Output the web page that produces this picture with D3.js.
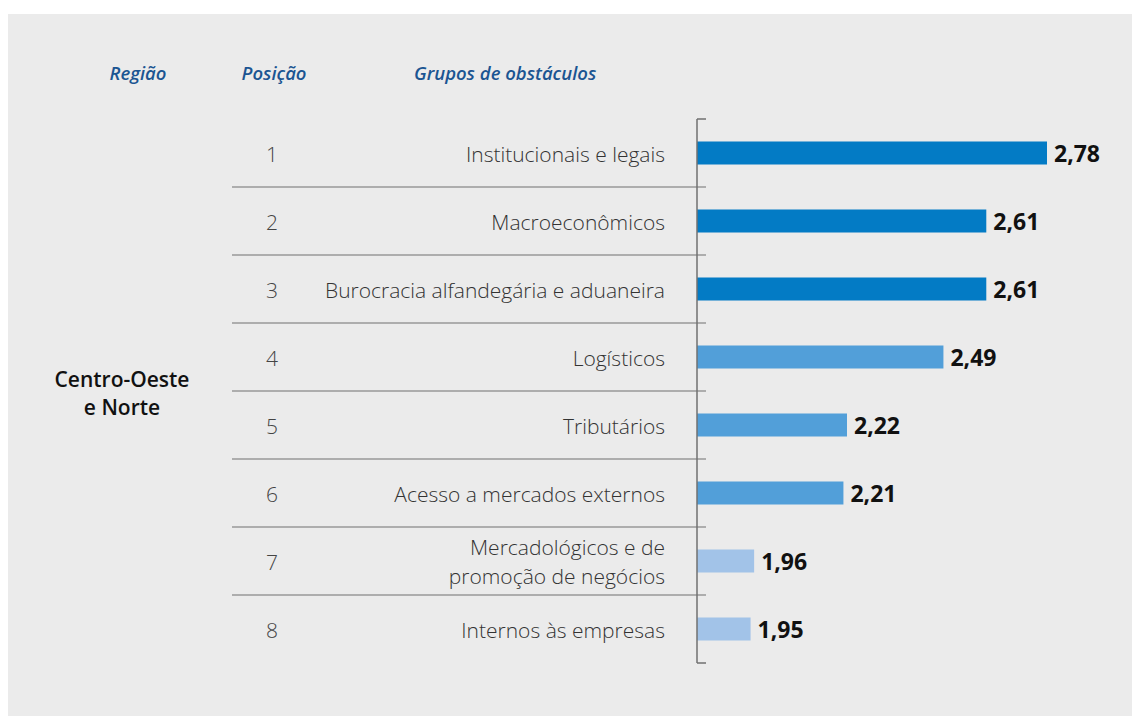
<!DOCTYPE html>
<html>
<head>
<meta charset="utf-8">
<script src="https://cdn.jsdelivr.net/npm/d3@7"></script>
<style>
    body { margin: 0; background: #fff; }
    svg { display: block; font-family: "Open Sans", sans-serif; }
</style>
</head>
<body>
<script>
const region = ["Centro-Oeste", "e Norte"];
const positions = [1, 2, 3, 4, 5, 6, 7, 8];
const groups = [
    ["Institucionais e legais"],
    ["Macroeconômicos"],
    ["Burocracia alfandegária e aduaneira"],
    ["Logísticos"],
    ["Tributários"],
    ["Acesso a mercados externos"],
    ["Mercadológicos e de", "promoção de negócios"],
    ["Internos às empresas"]
];
const values = [2.78, 2.61, 2.61, 2.49, 2.22, 2.21, 1.96, 1.95];
const tiers = [0, 0, 0, 1, 1, 1, 2, 2];
const headers = ["Região", "Posição", "Grupos de obstáculos"];

const width = 1132;
const height = 716;
const axisX = 697;

const svg = d3.select("body")
    .append("svg")
        .attr("width", width)
        .attr("height", height);

// Grey panel behind everything.
svg.append("rect")
    .attr("x", 8)
    .attr("y", 14)
    .attr("width", width - 8)
    .attr("height", height - 14)
    .attr("fill", "#ebebeb");

const y = d3.scaleBand()
    .domain(positions)
    .range([119, 663])
    .paddingInner(0);

const x = d3.scaleLinear()
    .domain([1.8, 2.78])
    .range([axisX, 1047]);

const color = d3.scaleOrdinal()
    .domain([0, 1, 2])
    .range(["#037bc5", "#529fd9", "#a2c3e8"]);

// Column headers.
svg.append("g")
    .selectAll("text")
    .data(headers)
    .join("text")
        .attr("x", (d, i) => [138, 274, 414][i])
        .attr("y", 80)
        .attr("text-anchor", (d, i) => i < 2 ? "middle" : "start")
        .attr("fill", "#1b5592")
        .style("font-size", "18.5px")
        .style("font-style", "italic")
        .style("font-weight", 600)
        .text(d => d);

// Region label.
svg.append("text")
    .attr("x", 122)
    .attr("y", 387)
    .attr("text-anchor", "middle")
    .attr("fill", "#111")
    .style("font-size", "21px")
    .style("font-weight", 600)
    .selectAll("tspan")
    .data(region)
    .join("tspan")
        .attr("x", 122)
        .attr("dy", (d, i) => i === 0 ? 0 : 28)
        .text(d => d);

// Row separators.
svg.append("g")
    .attr("stroke", "#707070")
    .attr("stroke-width", 1.2)
    .selectAll("line")
    .data(positions.slice(1))
    .join("line")
        .attr("x1", 232)
        .attr("x2", 706)
        .attr("y1", d => y(d))
        .attr("y2", d => y(d));

// Position numbers.
svg.append("g")
    .selectAll("text")
    .data(positions)
    .join("text")
        .attr("x", 272)
        .attr("y", d => y(d) + y.bandwidth() / 2 + 8.5)
        .attr("text-anchor", "middle")
        .attr("fill", "#444")
        .style("font-size", "21px")
        .style("font-weight", 300)
        .text(d => d);

// Group labels, right aligned against the axis.
svg.append("g")
    .selectAll("text")
    .data(groups)
    .join("text")
        .attr("text-anchor", "end")
        .attr("fill", "#333")
        .style("font-size", "21px")
        .style("font-weight", 300)
        .each(function(lines, i) {
            const cy = y(positions[i]) + y.bandwidth() / 2;
            d3.select(this).selectAll("tspan")
                .data(lines)
                .join("tspan")
                    .attr("x", 665)
                    .attr("y", (d, j) => cy + 8.5 + (j - (lines.length - 1) / 2) * 29)
                    .text(d => d);
        });

// Bars.
const barH = 23;
svg.append("g")
    .selectAll("rect")
    .data(values)
    .join("rect")
        .attr("x", axisX)
        .attr("y", (d, i) => y(positions[i]) + y.bandwidth() / 2 - barH / 2)
        .attr("width", d => x(d) - axisX)
        .attr("height", barH)
        .attr("fill", (d, i) => color(tiers[i]));

// Value labels.
svg.append("g")
    .selectAll("text")
    .data(values)
    .join("text")
        .attr("x", d => x(d) + 7)
        .attr("y", (d, i) => y(positions[i]) + y.bandwidth() / 2 + 9)
        .attr("fill", "#111")
        .style("font-size", "23px")
        .style("font-weight", 700)
        .text(d => d3.format(".2f")(d).replace(".", ","));

// Axis line with end ticks.
const axis = svg.append("g")
    .attr("stroke", "#707070")
    .attr("stroke-width", 1.5);
axis.append("line")
    .attr("x1", axisX)
    .attr("x2", axisX)
    .attr("y1", y.range()[0])
    .attr("y2", y.range()[1]);
axis.selectAll(".end")
    .data(y.range())
    .join("line")
        .attr("class", "end")
        .attr("x1", axisX)
        .attr("x2", 706)
        .attr("y1", d => d)
        .attr("y2", d => d);
</script>
</body>
</html>
